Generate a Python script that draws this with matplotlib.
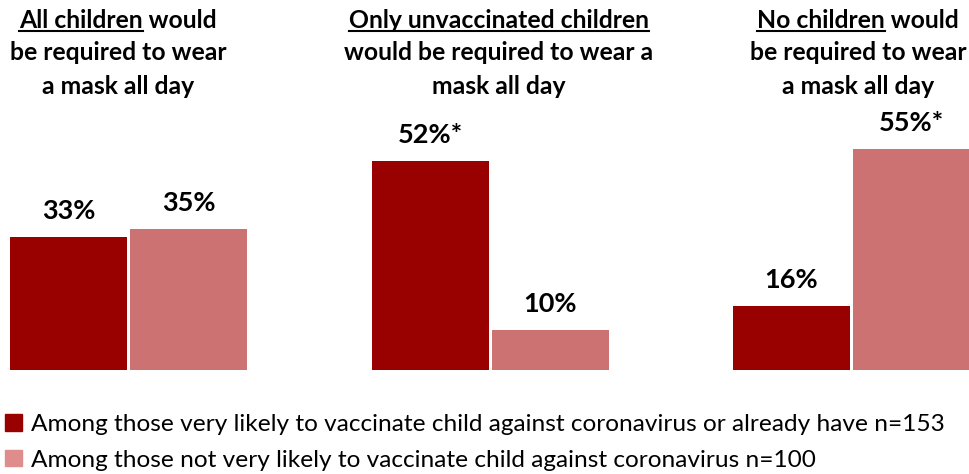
import numpy as np
import matplotlib.pyplot as plt
from matplotlib.patches import Patch

# data
groups = ['all', 'unvaccinated', 'none']
title_under = ['All children', 'Only unvaccinated children', 'No children']
title_lines = [['All children would', 'be required to wear', 'a mask all day'],
               ['Only unvaccinated children', 'would be required to wear a', 'mask all day'],
               ['No children would', 'be required to wear', 'a mask all day']]
likely = [33, 52, 16]
not_likely = [35, 10, 55]
likely_labels = ['33%', '52%*', '16%']
not_likely_labels = ['35%', '10%', '55%*']
series_names = ['Among those very likely to vaccinate child against coronavirus or already have n=153',
                'Among those not very likely to vaccinate child against coronavirus n=100']

DARK = '#990000'
LIGHT = '#CC7272'
LIGHT_KEY = '#DE8C8C'
FONT = 'Lato'

W, H = 969, 474
fig = plt.figure(figsize=(W / 100, H / 100), dpi=100)
base_px = 370
ax = fig.add_axes([0, (H - base_px) / H, 1, base_px / H])
spacing = 361.5
ax.set_xlim(-128.5 / spacing, (W - 128.5) / spacing)
ax.set_ylim(0, base_px / 4.02)
ax.axis('off')

x = np.arange(len(groups))
bw = 117 / spacing
off = 60 / spacing
b1 = ax.bar(x - off, likely, bw, color=DARK)
b2 = ax.bar(x + off, not_likely, bw, color=LIGHT)

for bars, labs in [(b1, likely_labels), (b2, not_likely_labels)]:
    for b, lab in zip(bars, labs):
        ax.annotate(lab, (b.get_x() + b.get_width() / 2, b.get_height()),
                    xytext=(0, 10), textcoords='offset points', ha='center', va='bottom',
                    fontsize=19.5, fontweight='bold', family=FONT)

# titles (with the first words underlined)
title_x = [118, 499, 858]
line_y = [20, 53, 86]
TS = 17.8
fig.canvas.draw()
r = fig.canvas.get_renderer()
for cx, lines, und in zip(title_x, title_lines, title_under):
    for i, (ln, ly) in enumerate(zip(lines, line_y)):
        t = fig.text(cx / W, 1 - ly / H, ln, ha='center', va='center',
                     fontsize=TS, fontweight='bold', family=FONT)
        if i == 0:
            bb = t.get_window_extent(r)
            tmp = fig.text(0, 0, und, fontsize=TS, fontweight='bold', family=FONT)
            uw = tmp.get_window_extent(r).width
            tmp.remove()
            uy = bb.y0 + 1
            fig.add_artist(plt.Line2D([bb.x0 / W, (bb.x0 + uw) / W], [uy / H, uy / H],
                                      color='black', lw=1.5))

handles = [Patch(color=DARK), Patch(color=LIGHT_KEY)]
fig.legend(handles, series_names, loc='upper left', bbox_to_anchor=(0.0, 1 - 409 / H),
           frameon=False, handlelength=0.68, handleheight=0.68,
           handletextpad=0.4, labelspacing=0.6, borderaxespad=0, borderpad=0.2,
           prop={'family': FONT, 'size': 17.6})

fig.savefig('out.png', dpi=100)
